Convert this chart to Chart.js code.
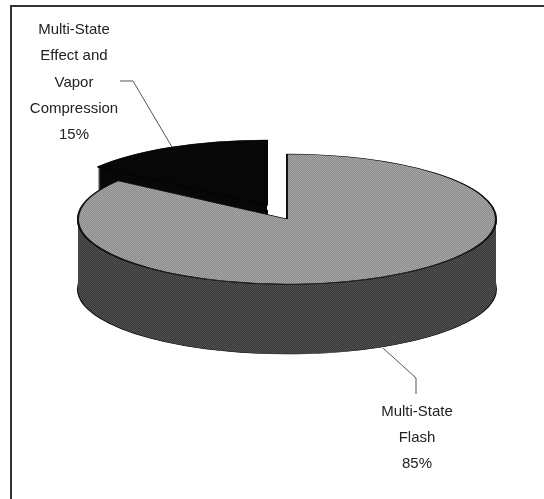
<!DOCTYPE html>
<html><head><meta charset="utf-8">
<style>html,body{margin:0;padding:0;background:#fff}canvas{display:block}</style>
<script src="https://cdn.jsdelivr.net/npm/chart.js@4"></script>
</head><body><canvas id="c" width="544" height="499"></canvas>
<script>
const categories = ['Multi-State Flash', 'Multi-State Effect and Vapor Compression'];
const shares = [85, 15];
const labelLines = [['Multi-State', 'Flash', '85%'], ['Multi-State', 'Effect and', 'Vapor', 'Compression', '15%']];

const SQUASH = 65 / 209, DEPTH = 70;
const EXPLODE = [{x: 0, y: 0}, {x: -20, y: -14}];
const LABEL_POS = [{x: 417, y: 412, gap: 26}, {x: 74, y: 30, gap: 26.2}];
const LEADERS = [[[383, 348], [416, 378], [416, 394]], [[120, 81], [133, 81], [172, 147]]];

function dither(a, b) {
  const s = document.createElement('canvas'); s.width = s.height = 2;
  const g = s.getContext('2d');
  g.fillStyle = a; g.fillRect(0, 0, 2, 2);
  g.fillStyle = b; g.fillRect(0, 0, 1, 1); g.fillRect(1, 1, 1, 1);
  return g.createPattern(s, 'repeat');
}
const blackFill = dither('#050505', '#0a0a0a');
const topFills = [dither('#868686', '#ababab'), blackFill];
const sideFills = [dither('#343434', '#555555'), blackFill];
const OUTLINES = ['#111', '#050505'];

const pie3d = {
  id: 'pie3d',
  beforeDraw(chart) {
    const c = chart.ctx;
    c.save();
    c.fillStyle = '#fff'; c.fillRect(0, 0, 544, 499);
    c.strokeStyle = '#333'; c.lineWidth = 2;
    c.beginPath(); c.moveTo(11, 499); c.lineTo(11, 6); c.lineTo(544, 6); c.stroke();
    c.restore();
  },
  beforeDatasetsDraw(chart) {
    const c = chart.ctx, arcs = chart.getDatasetMeta(0).data;
    const cx = arcs[0].x, cy = arcs[0].y;
    const paint = (i, dy, fill, line) => {
      const el = arcs[i], base = el.options;
      el.options = Object.assign({}, base, {backgroundColor: fill, borderColor: line || fill, borderWidth: line ? 2 : 0});
      c.save();
      c.translate(cx + EXPLODE[i].x, cy + EXPLODE[i].y + dy);
      c.scale(1, SQUASH);
      c.translate(-cx, -cy);
      fill.setTransform(c.getTransform().inverse());
      el.draw(c);
      c.restore();
      el.options = base;
    };
    [1, 0].forEach(i => {
      paint(i, DEPTH, sideFills[i], OUTLINES[i]);
      for (let d = DEPTH; d > 0; d--) paint(i, d - 0.5, sideFills[i], d === 1 ? OUTLINES[i] : null);
      paint(i, 0, topFills[i], OUTLINES[i]);
    });
    return false;
  },
  afterDraw(chart) {
    const c = chart.ctx;
    c.save();
    c.strokeStyle = '#555'; c.lineWidth = 1;
    LEADERS.forEach(pts => {
      c.beginPath();
      pts.forEach((p, i) => i ? c.lineTo(p[0], p[1]) : c.moveTo(p[0], p[1]));
      c.stroke();
    });
    c.fillStyle = '#222';
    c.font = '15px "Liberation Sans"';
    c.textAlign = 'center'; c.textBaseline = 'middle';
    labelLines.forEach((lines, i) => lines.forEach((t, j) =>
      c.fillText(t, LABEL_POS[i].x, LABEL_POS[i].y + j * LABEL_POS[i].gap)));
    c.restore();
  }
};

new Chart(document.getElementById('c'), {
  type: 'pie',
  data: {labels: categories, datasets: [{data: shares, backgroundColor: ['#999', '#111'], borderWidth: 0}]},
  options: {
    responsive: false, animation: false, radius: 209,
    layout: {padding: {left: 30, bottom: 61}},
    plugins: {legend: {display: false}, tooltip: {enabled: false}}
  },
  plugins: [pie3d]
});
</script></body></html>
